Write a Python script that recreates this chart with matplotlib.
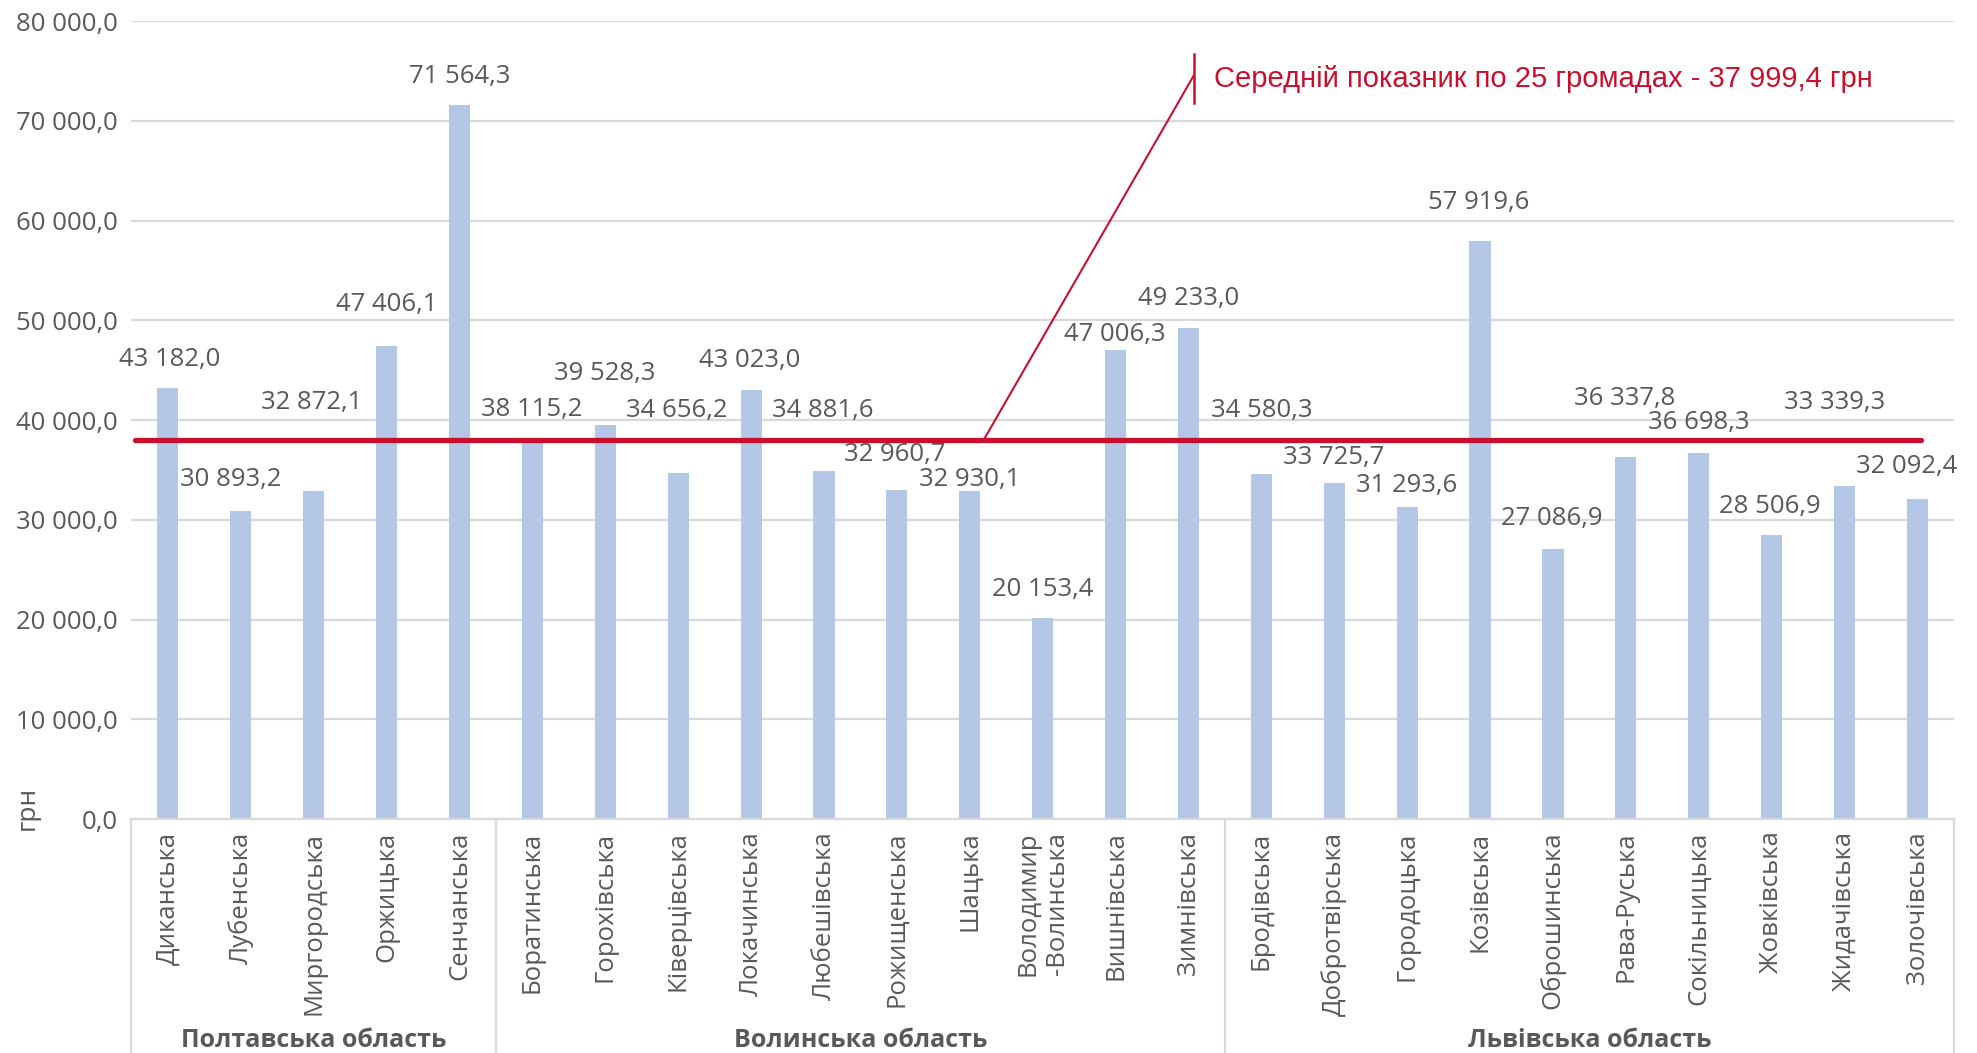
"""Середня зарплата по громадах (грн) з лінією середнього показника."""
import matplotlib
matplotlib.use("Agg")
import matplotlib.pyplot as plt
from matplotlib.transforms import blended_transform_factory

plt.rcParams["font.family"] = ["Open Sans", "DejaVu Sans"]

regions = ["Полтавська область", "Волинська область", "Львівська область"]
region_sizes = [5, 10, 10]

communities = [
    "Диканська", "Лубенська", "Миргородська", "Оржицька", "Сенчанська",
    "Боратинська", "Горохівська", "Ківерцівська", "Локачинська", "Любешівська",
    "Рожищенська", "Шацька", "Володимир\n-Волинська", "Вишнівська", "Зимнівська",
    "Бродівська", "Добротвірська", "Городоцька", "Козівська", "Оброшинська",
    "Рава-Руська", "Сокільницька", "Жовківська", "Жидачівська", "Золочівська",
]
values = [
    43182.0, 30893.2, 32872.1, 47406.1, 71564.3,
    38115.2, 39528.3, 34656.2, 43023.0, 34881.6,
    32960.7, 32930.1, 20153.4, 47006.3, 49233.0,
    34580.3, 33725.7, 31293.6, 57919.6, 27086.9,
    36337.8, 36698.3, 28506.9, 33339.3, 32092.4,
]
mean_value = 37999.4
yticks = [0, 10000, 20000, 30000, 40000, 50000, 60000, 70000, 80000]

# label placement (pixels above bar top / sideways), as in the original layout
label_dy = [29, 31, 89, 42, 29, 29, 51, 63, 29, 61, 36, 11, 29, 16, 29,
            64, 25, 21, 39, 30, 58, 30, 28, 84, 32]
label_dx = [2, -10, -2, 0, 0, -1, -1, -1, -1, -1, -2, 0, 0, -1, 0,
            0, -1, -1, -1, -1, -1, 0, -2, -10, -11]

BAR = "#B4C7E7"
RED = "#C8102E"
GRAY = "#595959"
GRID = "#D9D9D9"
FS = 18.5


def fmt(v):
    s = f"{v:,.1f}".replace(",", " ").replace(".", ",")
    return s


fig = plt.figure(figsize=(19.77, 10.53), dpi=100)
ax = fig.add_axes([0.0665, 0.2222, 0.9218, 0.7578])

x = list(range(len(values)))
ax.bar(x, values, width=0.29, color=BAR, zorder=2)

for xi, v, dx, dy in zip(x, values, label_dx, label_dy):
    ax.annotate(fmt(v), (xi, v), xytext=(dx, dy), textcoords="offset pixels",
                ha="center", va="center", fontsize=FS, color=GRAY, zorder=4)

ax.set_xlim(-0.5, len(values) - 0.5)
ax.set_ylim(0, 80000)
ax.set_yticks(yticks)
ax.set_yticklabels([fmt(t) for t in yticks], fontsize=FS, color=GRAY)
ax.yaxis.grid(True, color=GRID, linewidth=1.6, zorder=0)
ax.set_axisbelow(True)
for side in ["top", "right", "left"]:
    ax.spines[side].set_visible(False)
ax.spines["bottom"].set_color(GRID)
ax.spines["bottom"].set_linewidth(1.6)
ax.tick_params(axis="y", length=0, pad=10)
ax.tick_params(axis="x", length=0, pad=9)
ax.set_xticks(x)
ax.set_xticklabels(communities, rotation=90, fontsize=18.5, color=GRAY,
                   va="top", ha="center", multialignment="right")

# mean line and its callout
ax.plot([-0.45, 24.05], [mean_value, mean_value], color=RED, linewidth=3.8,
        solid_capstyle="round", zorder=3)
ax.plot([11.19, 14.07], [mean_value, 74500], color=RED, linewidth=1.5, zorder=3)
ax.plot([14.07, 14.07], [71800, 76700], color=RED, linewidth=1.8, zorder=3)
ax.text(14.35, 74200, f"Середній показник по 25 громадах - {fmt(mean_value)} грн",
        color=RED, fontsize=21, va="center", ha="left",
        family=["Liberation Sans", "DejaVu Sans"])

# region grouping under the category labels
bt = blended_transform_factory(ax.transData, fig.transFigure)
edge = -0.5
bounds = [edge]
for n in region_sizes:
    edge += n
    bounds.append(edge)
for b in bounds:
    ax.plot([b, b], [0.2222, 0.0], transform=bt, color=GRID, linewidth=1.6,
            clip_on=False)
for name, lo, hi in zip(regions, bounds[:-1], bounds[1:]):
    ax.text((lo + hi) / 2, 0.0123, name, transform=bt, ha="center", va="center",
            fontsize=18, fontweight="bold", color=GRAY)

fig.text(0.0137, 0.233, "грн", rotation=90, ha="center", va="center",
         fontsize=19, color=GRAY)

fig.savefig("out.png", dpi=100)
